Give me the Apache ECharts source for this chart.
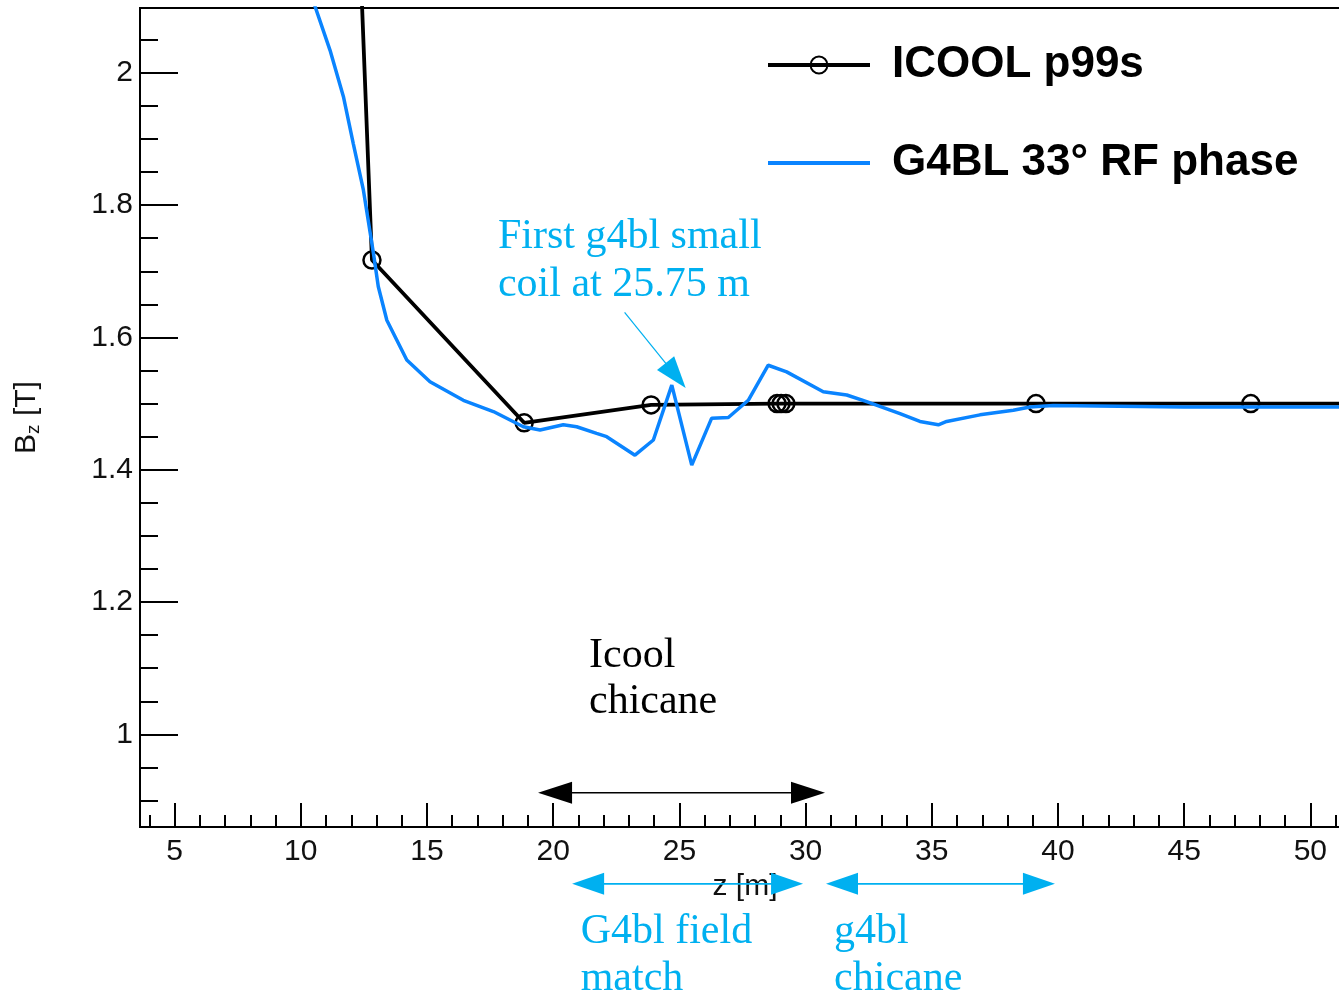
<!DOCTYPE html>
<html><head><meta charset="utf-8">
<script src="https://cdn.jsdelivr.net/npm/echarts@6/dist/echarts.min.js"></script>
<style>html,body{margin:0;padding:0;background:#fff}#c{width:1339px;height:996px}</style>
</head><body><div id="c"></div>
<script>
// ---------------- data ----------------
const seriesNames = ['ICOOL p99s', 'G4BL 33\u00B0 RF phase'];
const icoolZ = [12.02, 12.82, 18.85, 23.88, 28.87, 29.03, 29.22, 39.13, 47.64, 56.0];
const icoolB = [2.50, 1.717, 1.471, 1.498, 1.500, 1.500, 1.500, 1.500, 1.500, 1.500];
const g4blZ = [10.30, 11.16, 11.69, 12.08, 12.48, 12.88, 13.07, 13.41, 14.20, 15.12, 16.44, 17.63, 18.82, 19.48, 20.40, 20.93, 21.72, 22.12, 23.24, 23.97, 24.70, 25.49, 26.28, 26.94, 27.73, 28.52, 29.25, 30.70, 31.63, 32.42, 33.74, 34.53, 35.26, 35.59, 36.91, 38.23, 38.89, 39.81, 45.0, 56.0];
const g4blB = [2.130, 2.034, 1.964, 1.893, 1.823, 1.727, 1.677, 1.626, 1.566, 1.533, 1.505, 1.488, 1.465, 1.460, 1.468, 1.465, 1.455, 1.450, 1.422, 1.445, 1.528, 1.407, 1.478, 1.479, 1.505, 1.558, 1.548, 1.518, 1.513, 1.503, 1.485, 1.473, 1.468, 1.473, 1.483, 1.490, 1.495, 1.497, 1.495, 1.495];
const xMajorTicks = [5, 10, 15, 20, 25, 30, 35, 40, 45, 50];
const xMinorTicks = [4, 6, 7, 8, 9, 11, 12, 13, 14, 16, 17, 18, 19, 21, 22, 23, 24, 26, 27, 28, 29, 31, 32, 33, 34, 36, 37, 38, 39, 41, 42, 43, 44, 46, 47, 48, 49, 51];
const yMajorTicks = [1, 1.2, 1.4, 1.6, 1.8, 2];
const yMinorTicks = [0.9, 0.95, 1.05, 1.1, 1.15, 1.25, 1.3, 1.35, 1.45, 1.5, 1.55, 1.65, 1.7, 1.75, 1.85, 1.9, 1.95, 2.05];
const xTitle = 'z [m]';
const yTitle = 'B{sub|z} [T]';

// annotations (in data units)
const noteLines = [
  {text: 'First g4bl small', z: 17.81, b: 1.7518, c: 'blue'},
  {text: 'coil at 25.75 m', z: 17.81, b: 1.6792, c: 'blue'},
  {text: 'Icool', z: 21.42, b: 1.1186, c: 'black'},
  {text: 'chicane', z: 21.42, b: 1.0491, c: 'black'},
  {text: 'G4bl field', z: 21.09, b: 0.7016, c: 'blue'},
  {text: 'match', z: 21.09, b: 0.6306, c: 'blue'},
  {text: 'g4bl', z: 31.13, b: 0.7016, c: 'blue'},
  {text: 'chicane', z: 31.13, b: 0.6306, c: 'blue'}
];
const pointerArrow = {from: [22.83, 1.638], to: [25.25, 1.5236]};
const spanArrows = [
  {z1: 19.40, z2: 30.77, b: 0.9116, c: 'black'},
  {z1: 20.75, z2: 29.90, b: 0.7741, c: 'blue'},
  {z1: 30.81, z2: 39.88, b: 0.7741, c: 'blue'}
];

// ---------------- chart ----------------
const X_MIN = 3.63, X_MAX = 51.57, Y_MIN = 0.86, Y_MAX = 2.098;
const NOTE_BLUE = '#00b0f0';
const LINE_BLUE = '#0a84ff';
const SANS = '"Liberation Sans", Arial, sans-serif';
const SERIF = '"Liberation Serif", "Times New Roman", serif';

const chart = echarts.init(document.getElementById('c'), null, {renderer: 'canvas'});

const tickStyle = {color: '#000', width: 2};
chart.setOption({
  animation: false,
  backgroundColor: '#fff',
  grid: {left: 140, top: 8, width: 1210, height: 819, outerBoundsMode: 'none', containLabel: false,
    show: true, borderColor: '#000', borderWidth: 2, backgroundColor: 'transparent'},
  legend: {
    orient: 'vertical', left: 766, top: 43, padding: 0, itemWidth: 102, itemHeight: 21, itemGap: 54,
    selectedMode: false,
    data: [{name: seriesNames[0]}, {name: seriesNames[1], itemStyle: {opacity: 0}}],
    lineStyle: {width: 4},
    formatter: n => '{p|}' + n,
    textStyle: {fontFamily: SANS, fontWeight: 'bold', fontSize: 44, color: '#000',
      rich: {p: {width: 17}}}
  },
  xAxis: [
    {type: 'value', position: 'bottom', min: X_MIN, max: X_MAX,
     axisLine: {show: true, onZero: false, lineStyle: tickStyle},
     axisTick: {show: true, inside: true, length: 24, customValues: xMajorTicks, lineStyle: tickStyle},
     axisLabel: {show: true, customValues: xMajorTicks, margin: 10, fontSize: 30, fontFamily: SANS, color: '#111'},
     splitLine: {show: false},
     name: xTitle, nameLocation: 'middle', nameGap: 45,
     nameTextStyle: {fontSize: 30, fontFamily: SANS, color: '#111'}},
    {type: 'value', position: 'bottom', min: X_MIN, max: X_MAX,
     axisLine: {show: false, onZero: false},
     axisTick: {show: true, inside: true, length: 12, customValues: xMinorTicks, lineStyle: tickStyle},
     axisLabel: {show: false}, splitLine: {show: false}}
  ],
  yAxis: [
    {type: 'value', position: 'left', min: Y_MIN, max: Y_MAX,
     axisLine: {show: true, onZero: false, lineStyle: tickStyle},
     axisTick: {show: true, inside: true, length: 38, customValues: yMajorTicks, lineStyle: tickStyle},
     axisLabel: {show: true, customValues: yMajorTicks, margin: 7, fontSize: 30, fontFamily: SANS, color: '#111'},
     splitLine: {show: false},
     name: yTitle, nameLocation: 'middle', nameGap: 97,
     nameTextStyle: {fontSize: 30, fontFamily: SANS, color: '#111',
       rich: {sub: {fontSize: 19, fontFamily: SANS, color: '#111', verticalAlign: 'bottom', padding: [14, 0, 0, 0]}}}},
    {type: 'value', position: 'left', min: Y_MIN, max: Y_MAX,
     axisLine: {show: false, onZero: false},
     axisTick: {show: true, inside: true, length: 18, customValues: yMinorTicks, lineStyle: tickStyle},
     axisLabel: {show: false}, splitLine: {show: false}}
  ],
  series: [
    {type: 'line', name: seriesNames[0], xAxisIndex: 0, yAxisIndex: 0,
     data: icoolZ.map((z, i) => [z, icoolB[i]]),
     symbol: 'circle', symbolSize: 17, showSymbol: true, clip: true,
     itemStyle: {color: 'rgba(255,255,255,0)', borderColor: '#000', borderWidth: 2.5},
     lineStyle: {color: '#000', width: 3.8}, z: 3},
    {type: 'line', name: seriesNames[1], xAxisIndex: 0, yAxisIndex: 0,
     data: g4blZ.map((z, i) => [z, g4blB[i]]),
     symbol: 'none', clip: true,
     itemStyle: {color: LINE_BLUE},
     lineStyle: {color: LINE_BLUE, width: 3.5}, z: 4}
  ]
});

// ---------------- annotations via the chart's own scales ----------------
const px = (z, b) => chart.convertToPixel({xAxisIndex: 0, yAxisIndex: 0}, [z, b]);
const graphics = [];
noteLines.forEach(n => {
  const p = px(n.z, n.b);
  graphics.push({type: 'text', x: p[0], y: p[1], z: 100,
    style: {text: n.text, font: '42px ' + SERIF, fill: n.c === 'blue' ? NOTE_BLUE : '#000',
      textAlign: 'left', textVerticalAlign: 'middle', verticalAlign: 'middle'}});
});
spanArrows.forEach(a => {
  const p1 = px(a.z1, a.b), p2 = px(a.z2, a.b);
  const col = a.c === 'blue' ? NOTE_BLUE : '#000';
  const L = a.c === 'blue' ? 32 : 34, h = 11;
  const y = p1[1];
  graphics.push({type: 'line', z: 100, shape: {x1: p1[0] + L - 2, y1: y, x2: p2[0] - L + 2, y2: y},
    style: {stroke: col, lineWidth: a.c === 'blue' ? 1.8 : 1.5}});
  graphics.push({type: 'polygon', z: 100, shape: {points: [[p1[0], y], [p1[0] + L, y - h], [p1[0] + L, y + h]]}, style: {fill: col}});
  graphics.push({type: 'polygon', z: 100, shape: {points: [[p2[0], y], [p2[0] - L, y - h], [p2[0] - L, y + h]]}, style: {fill: col}});
});
(function () {
  const a = px(pointerArrow.from[0], pointerArrow.from[1]);
  const t = px(pointerArrow.to[0], pointerArrow.to[1]);
  const dx = t[0] - a[0], dy = t[1] - a[1], len = Math.hypot(dx, dy);
  const ux = dx / len, uy = dy / len, L = 32, h = 11;
  const bx = t[0] - ux * L, by = t[1] - uy * L;
  graphics.push({type: 'line', z: 100, shape: {x1: a[0], y1: a[1], x2: bx + ux * 2, y2: by + uy * 2},
    style: {stroke: NOTE_BLUE, lineWidth: 1.2}});
  graphics.push({type: 'polygon', z: 100, shape: {points: [[t[0], t[1]], [bx - uy * h, by + ux * h], [bx + uy * h, by - ux * h]]},
    style: {fill: NOTE_BLUE}});
})();
chart.setOption({graphic: graphics});
</script>
</body></html>
